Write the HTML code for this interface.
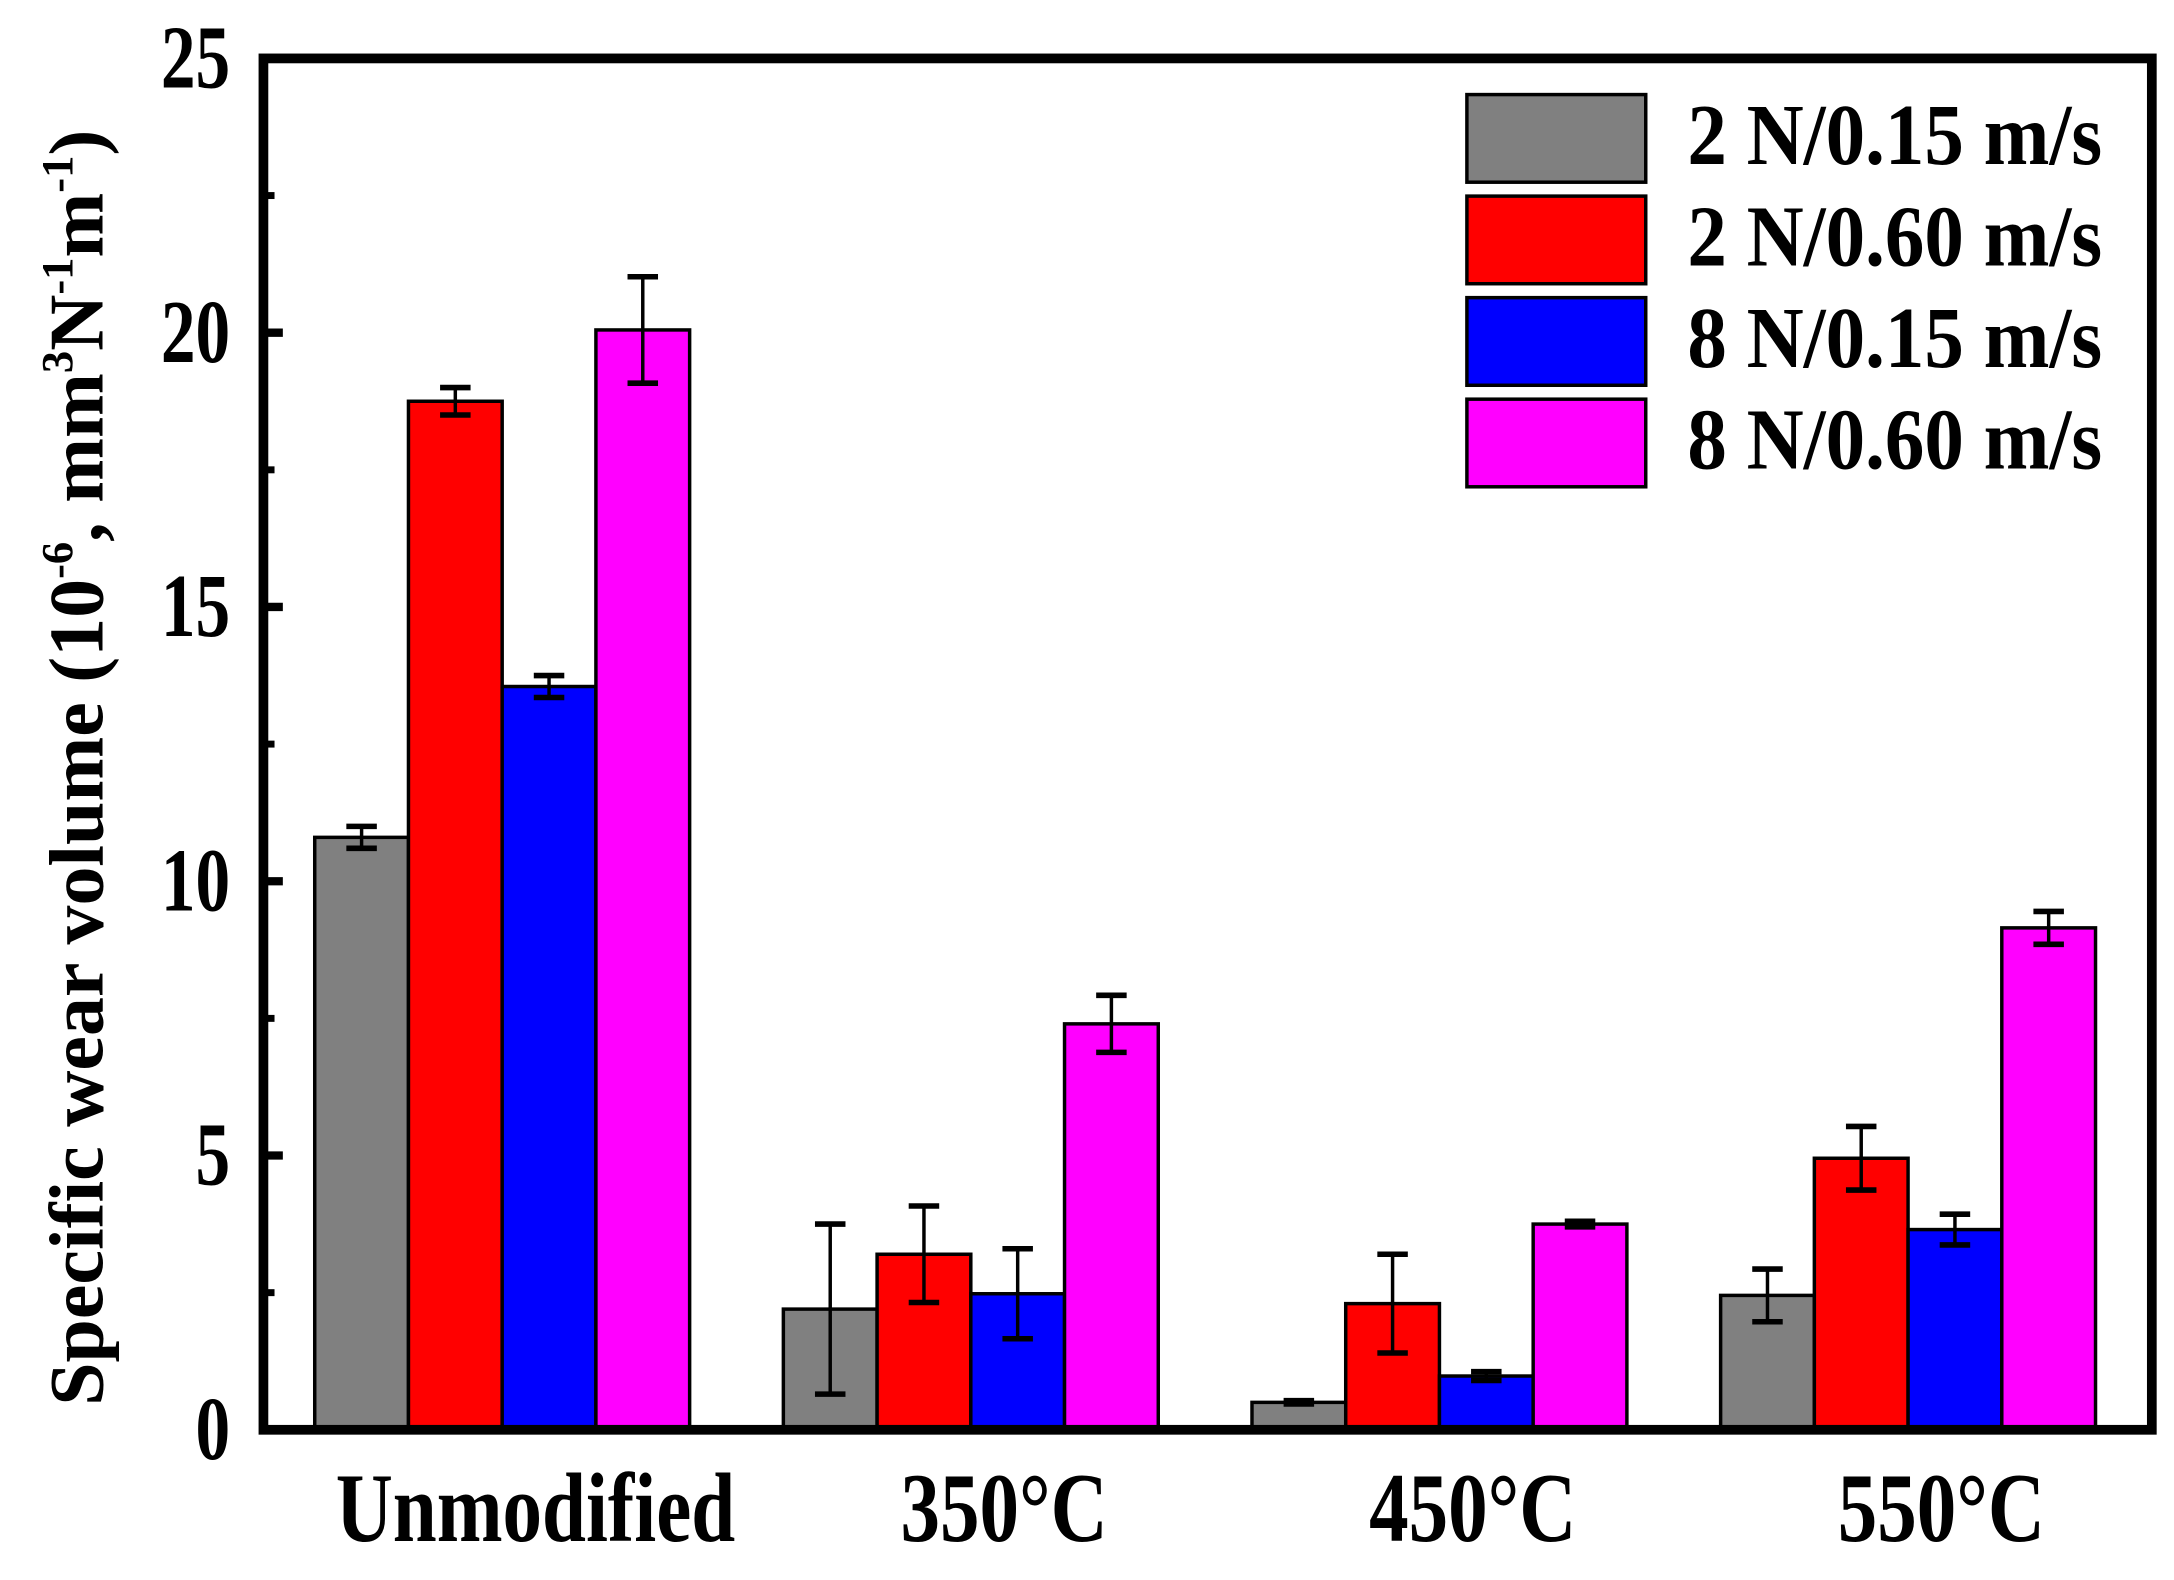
<!DOCTYPE html>
<html><head><meta charset="utf-8"><style>
html,body{margin:0;padding:0;background:#fff;}
svg{display:block;}
text{font-family:"Liberation Serif",serif;font-weight:bold;fill:#000;}
</style></head><body>
<svg id="chart" width="2174" height="1580" viewBox="0 0 1568 1136" preserveAspectRatio="none" xmlns="http://www.w3.org/2000/svg">
<rect x="0" y="0" width="1568" height="1136" fill="#fff"/>
<g id="bars"></g>
<g id="axes"></g>
<g id="legend"></g>
<text transform="translate(74,552) rotate(-90)" text-anchor="middle" font-size="56">Specific wear volume (10<tspan dy="-22" font-size="32">-6</tspan><tspan dy="22">, mm</tspan><tspan dy="-22" font-size="32">3</tspan><tspan dy="22">N</tspan><tspan dy="-22" font-size="32">-1</tspan><tspan dy="22">m</tspan><tspan dy="-22" font-size="32">-1</tspan><tspan dy="22">)</tspan></text>
</svg>
<script>
const categories = ["Unmodified", "350°C", "450°C", "550°C"];
const seriesNames = ["2 N/0.15 m/s", "2 N/0.60 m/s", "8 N/0.15 m/s", "8 N/0.60 m/s"];
const seriesColors = ["#808080", "#ff0000", "#0000ff", "#ff00ff"];
const s1Values = [10.8, 2.2, 0.5, 2.45];
const s1Err = [0.2, 1.55, 0.03, 0.48];
const s2Values = [18.75, 3.2, 2.3, 4.95];
const s2Err = [0.25, 0.88, 0.9, 0.58];
const s3Values = [13.55, 2.48, 0.98, 3.65];
const s3Err = [0.2, 0.82, 0.08, 0.28];
const s4Values = [20.05, 7.4, 3.75, 9.15];
const s4Err = [0.97, 0.52, 0.05, 0.3];
const yTicks = [0, 5, 10, 15, 20, 25];

const NS = "http://www.w3.org/2000/svg";
const L = 190, R = 1552, T = 42, B = 1028;
const y = v => B - (v / 25) * (B - T);
const groupStart = i => 227 + i * 338;
const barW = 67.6;
function mk(tag, attrs, parent) { const e = document.createElementNS(NS, tag); for (const k in attrs) e.setAttribute(k, attrs[k]); parent.appendChild(e); return e; }

const bars = document.getElementById("bars");
const allVals = [s1Values, s2Values, s3Values, s4Values];
const allErr = [s1Err, s2Err, s3Err, s4Err];
for (let s = 0; s < 4; s++) {
  for (let c = 0; c < categories.length; c++) {
    const x = groupStart(c) + s * barW;
    const v = allVals[s][c];
    const r = mk("rect", {x: x, y: y(v), width: barW, height: B - y(v), fill: seriesColors[s], stroke: "#000", "stroke-width": 2.5}, bars);
    
    
    const cx = x + barW / 2, e = allErr[s][c];
    const g = mk("g", {stroke: "#000", "stroke-width": 2.5}, bars);
    
    
    mk("line", {x1: cx, x2: cx, y1: y(v + e), y2: y(v - e)}, g);
    mk("line", {x1: cx - 11, x2: cx + 11, y1: y(v + e), y2: y(v + e), "stroke-width": 4}, g);
    mk("line", {x1: cx - 11, x2: cx + 11, y1: y(v - e), y2: y(v - e), "stroke-width": 4}, g);
  }
}

const axes = document.getElementById("axes");
const frame = mk("rect", {x: L, y: T, width: R - L, height: B - T, fill: "none", stroke: "#000", "stroke-width": 7}, axes);


for (let i = 0; i < yTicks.length; i++) {
  const t = yTicks[i];
  mk("line", {x1: L, x2: L + 14, y1: y(t), y2: y(t), stroke: "#000", "stroke-width": 6}, axes);
  const lbl = mk("text", {transform: "translate(166," + (y(t) + 21) + ") scale(1,1.3)", "text-anchor": "end", "font-size": 50}, axes);
  lbl.textContent = t;
  
  
  if (i < yTicks.length - 1) mk("line", {x1: L, x2: L + 8, y1: y(t + 2.5), y2: y(t + 2.5), stroke: "#000", "stroke-width": 5}, axes);
}
for (let c = 0; c < categories.length; c++) {
  const lbl = mk("text", {transform: "translate(" + (groupStart(c) + 2 * barW + 24) + ",1108) scale(1,1.25)", "text-anchor": "middle", "font-size": 57}, axes);
  lbl.textContent = categories[c];
  
  
}

const legend = document.getElementById("legend");
for (let s = 0; s < 4; s++) {
  const ry = 68 + s * 73;
  const sw = mk("rect", {x: 1058, y: ry, width: 129, height: 63, fill: seriesColors[s], stroke: "#000", "stroke-width": 2.5}, legend);
  
  
  const tx = mk("text", {transform: "translate(1217," + (ry + 50) + ") scale(1,1.1)", "font-size": 57}, legend);
  tx.textContent = seriesNames[s];
  
  
}
</script>
</body></html>
